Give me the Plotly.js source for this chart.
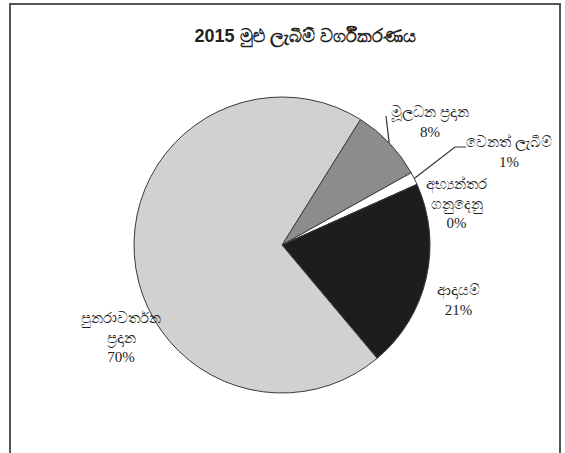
<!DOCTYPE html>
<html><head><meta charset="utf-8">
<script src="https://cdn.plot.ly/plotly-3.0.1.min.js"></script>
<style>html,body{margin:0;padding:0;background:#fff}#chart{width:565px;height:453px}</style>
</head><body><div id="chart"></div>
<script>
// ---- data ----
const chartTitle = '2015 මුළු ලැබීම් වර්ගීකරණය';
const categories = ['මූලධන ප්‍රදාන', 'වෙනත් ලැබීම්', 'අභ්‍යන්තර ගනුදෙනු', 'ආදායම්', 'පුනරාවර්තන ප්‍රදාන'];
const labelText  = ['මූලධන ප්‍රදාන', 'වෙනත් ලැබීම්', 'අභ්‍යන්තර<br>ගනුදෙනු', 'ආදායම්', 'පුනරාවර්තන<br>ප්‍රදාන'];
const values     = [8.0, 1.4, 0, 20.6, 70];

// ---- styling / layout ----
const sliceColors = ['#8c8c8c', '#ffffff', '#ffffff', '#1d1d1d', '#d1d1d1'];
const W = 565, H = 453;
const cx = 282, cy = 245, R = 148;          // pie centre / radius (px)
const rotation = 32;                        // start angle, deg clockwise from 12 o'clock
const labelPos = [[430, 122], [509, 152], [457, 203], [458, 300], [121, 337]];
const leaderStart = {0: [[386, 116]], 1: [[466, 147], [455, 147]]};

const total = values.reduce((a, b) => a + b, 0);
const px = x => x / W, py = y => 1 - y / H;

// mid angle of slice i on the pie edge
function edgePoint(i) {
  let start = rotation;
  for (let k = 0; k < i; k++) start += values[k] / total * 360;
  const mid = (start + values[i] / total * 180) * Math.PI / 180;
  return [cx + R * Math.sin(mid), cy - R * Math.cos(mid)];
}

const labelFont = {family: 'Liberation Serif, Times New Roman, serif', size: 15, color: '#222'};
const annotations = categories.map((c, i) => ({
  xref: 'paper', yref: 'paper',
  x: px(labelPos[i][0]), y: py(labelPos[i][1]),
  xanchor: 'center', yanchor: 'middle',
  text: labelText[i] + '<br>' + Math.round(values[i] / total * 100) + '%',
  showarrow: false, font: labelFont
}));

const shapes = [];
Object.keys(leaderStart).forEach(k => {
  const pts = leaderStart[k].concat([edgePoint(+k)]);
  const path = pts.map((p, j) => (j ? 'L' : 'M') + px(p[0]) + ',' + py(p[1])).join(' ');
  shapes.push({type: 'path', xref: 'paper', yref: 'paper', path: path,
               line: {color: '#333', width: 1.2}});
});
// outer frame
shapes.push({type: 'rect', xref: 'paper', yref: 'paper',
  x0: px(10), x1: px(560), y0: py(470), y1: py(4),
  line: {color: '#555', width: 2}, fillcolor: 'rgba(0,0,0,0)'});

const trace = {
  type: 'pie',
  labels: categories,
  values: values,
  sort: false,
  direction: 'clockwise',
  rotation: rotation,
  textinfo: 'none',
  hoverinfo: 'label+percent',
  marker: {colors: sliceColors, line: {color: '#3a3a3a', width: 1}},
  domain: {x: [px(cx - R), px(cx + R)], y: [py(cy + R), py(cy - R)]},
  showlegend: false
};

const layout = {
  width: W, height: H,
  margin: {l: 0, r: 0, t: 0, b: 0},
  paper_bgcolor: '#fff',
  title: {text: chartTitle, x: px(305), xanchor: 'center', y: py(36), yanchor: 'middle',
          font: {family: 'Liberation Sans, Arial, sans-serif', size: 18, color: '#222', weight: 'bold'}},
  annotations: annotations,
  shapes: shapes
};

Plotly.newPlot('chart', [trace], layout, {displayModeBar: false, staticPlot: true});
</script>
</body></html>
